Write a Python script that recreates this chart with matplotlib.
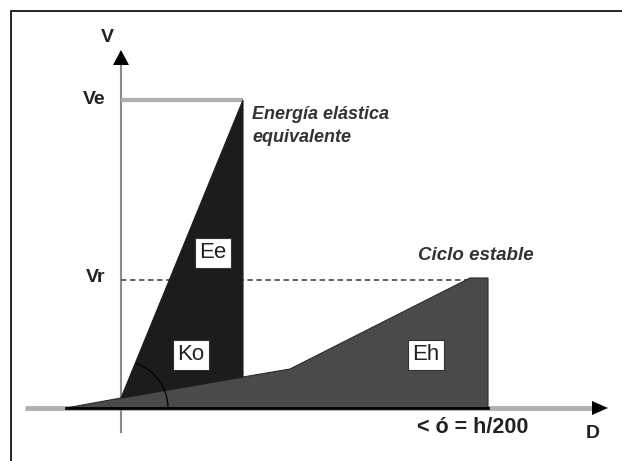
import numpy as np
import matplotlib.pyplot as plt
from matplotlib.patches import Polygon, Arc, Rectangle

# diagram values (D, V) with the origin at the axes crossing
ve = 308
vr = 128
d_e = 122            # displacement where elastic energy ends
d_r = 349            # start of stable cycle plateau
d_u = 367            # < d = h/200
eh_d = [-55, 0, 122, 169, 349, 367, 367]
eh_v = [0, 10, 31, 39, 130, 130, 0]
ee_d = [0, 122, 122]
ee_v = [10, 308, 31]

fig = plt.figure(figsize=(6.22, 4.61), dpi=100)
ax = fig.add_axes([0, 0, 1, 1])
ax.set_xlim(-121, 501)
ax.set_ylim(-53, 408)
ax.axis("off")

# frame
ax.add_patch(Rectangle((-110, -200), 800, 597, fill=False, ec="black", lw=1.2))

# axes
ax.plot([-96, 475], [0, 0], c="#b0b0b0", lw=3.5, solid_capstyle="butt", zorder=1)
ax.plot([0, 0], [-24, 345], c="#8a8a8a", lw=1.5, zorder=1)
ax.add_patch(Polygon([[471, 7], [471, -7], [487, 0]], closed=True, fc="black", ec="none", zorder=5))
ax.add_patch(Polygon([[-8, 343], [8, 343], [0, 358]], closed=True, fc="black", ec="none", zorder=5))

# Ve / Vr reference lines
ax.plot([0, d_e], [ve, ve], c="#b0b0b0", lw=3, solid_capstyle="butt", zorder=1)
ax.plot([0, d_r], [vr, vr], c="#555555", lw=1.3, ls=(0, (3, 2)), zorder=1)

# areas
ax.add_patch(Polygon(np.column_stack([eh_d, eh_v]), closed=True, fc="#4a4a4a", ec="#2a2a2a", lw=0.8, zorder=2))
ax.add_patch(Polygon(np.column_stack([ee_d, ee_v]), closed=True, fc="#1c1c1c", ec="#1c1c1c", lw=0.8, zorder=3))
ax.plot([eh_d[0], d_u], [0, 0], c="black", lw=2, zorder=4)
ax.add_patch(Arc((0, 0), 94, 94, theta1=0, theta2=72, color="black", lw=0.9, zorder=4))

# labels
bold = dict(family="Liberation Sans", weight="bold", color="#222222")
ax.text(-14, 370, "V", fontsize=14, ha="center", va="center", **bold)
ax.text(472, -25, "D", fontsize=14, ha="center", va="center", **bold)
ax.text(-16, ve, "Ve", fontsize=14, ha="right", va="center", **bold)
ax.text(-16, vr + 3, "Vr", fontsize=14, ha="right", va="center", **bold)
ax.text(296, -19, "< ó = h/200", fontsize=15.5, ha="left", va="center", **bold)

boxed = dict(boxstyle="square,pad=0.2", fc="white", ec="#333333", lw=0.8)
for lbl, d, v in [("Ee", 92, 155), ("Ko", 70, 53), ("Eh", 305, 53)]:
    ax.text(d, v, lbl, fontsize=16, ha="center", va="center", bbox=boxed, zorder=6,
            family="Liberation Sans", color="#222222")

ital = dict(family="Liberation Sans", style="italic", weight="bold", color="#333333")
ax.text(131, 302, "Energía elástica\nequivalente", fontsize=13, ha="left", va="top",
        linespacing=1.5, **ital)
ax.text(297, 153, "Ciclo estable", fontsize=13.5, ha="left", va="center", **ital)

fig.savefig("out.png", dpi=100)
